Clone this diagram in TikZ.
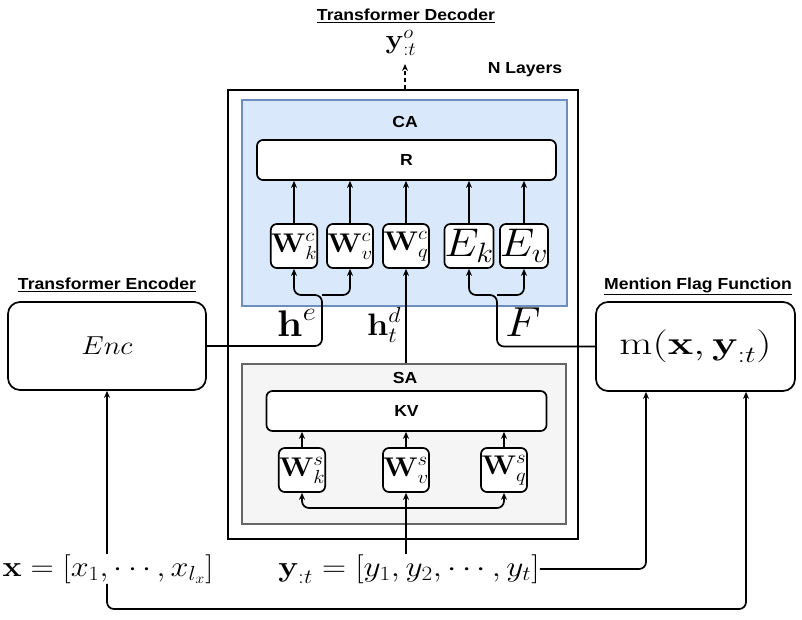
\documentclass[tikz,border=0pt]{standalone}
\usepackage{fix-cm}
\usepackage[no-math]{fontspec}
\usepackage{graphicx}
\newfontfamily\arialf{Liberation Sans}
\usetikzlibrary{arrows.meta,calc}
\definecolor{cafill}{HTML}{DAE8FC}
\definecolor{caborder}{HTML}{6C8EBF}
\definecolor{safill}{HTML}{F5F5F5}
\definecolor{saborder}{HTML}{666666}
\newcommand\mth[2]{\fontsize{#1}{#1}\selectfont\scalebox{1.1}[1]{$#2$}}
\newcommand\mthx[3]{\fontsize{#1}{#1}\selectfont\scalebox{#2}[1]{$#3$}}
\newcommand\bfl[1]{\mbox{\bfseries #1}}
\newcommand\ttl[1]{\arialf\bfseries\fontsize{16}{18}\selectfont\scalebox{1.1}[1]{#1}}
\begin{document}
\begin{tikzpicture}[x=1pt,y=-1pt,
  box/.style={draw, line width=1.7pt, rounded corners=6pt, fill=white, inner sep=0pt},
  wbox/.style={box, minimum width=46pt, minimum height=44pt},
  bigbox/.style={box, rounded corners=12pt, minimum width=198pt, minimum height=88pt},
  lab/.style={inner sep=0pt},
  conn/.style={line width=1.7pt, rounded corners=7pt},
  arr/.style={conn, -{Stealth[length=7pt,width=6pt]}},
  darr/.style={line width=1.7pt, dash pattern=on 4pt off 3pt, -{Stealth[length=7pt,width=6pt]}}]
\useasboundingbox (0,0) rectangle (802,619);

% outer decoder box
\node[draw, line width=2pt, minimum width=350pt, minimum height=449pt, inner sep=0pt] (outer) at (403,314.5) {};
\node[lab] (dectitle) at (406,16) {\ttl{\underline{Transformer Decoder}}};
\node[lab] (nl) at (525,70) {\ttl{N Layers}};
\node[lab] (yo) at (401,43) {\mth{27}{\bfl{y}^o_{:t}}};
\coordinate (ytip) at (405,64);
\draw[darr] (outer.north -| ytip) -- (ytip);

% CA block
\node[draw=caborder, fill=cafill, line width=1.5pt, minimum width=325pt, minimum height=206pt, inner sep=0pt] (ca) at (404.5,203) {};
\node[lab] (calab) at (405,122) {\ttl{CA}};
\node[box, minimum width=299pt, minimum height=40pt] (r) at (406.5,160) {\ttl{R}};
\node[wbox] (wkc) at (294,246) {\mth{27}{\bfl{W}_k^c}};
\node[wbox] (wvc) at (350,246) {\mth{27}{\bfl{W}_v^c}};
\node[wbox] (wqc) at (406,246) {\mth{27}{\bfl{W}_q^c}};
\node[wbox] (ek) at (469,246) {\mth{40}{E_k}};
\node[wbox] (ev) at (524,246) {\mth{40}{E_v}};
\foreach \n in {wkc,wvc,wqc,ek,ev}
  \draw[arr] (\n.north) -- (\n.north |- r.south);

% SA block
\node[draw=saborder, fill=safill, line width=1.7pt, minimum width=324pt, minimum height=160pt, inner sep=0pt] (sa) at (404,444) {};
\node[lab] (salab) at (405,378) {\ttl{SA}};
\node[box, minimum width=280pt, minimum height=40pt] (kv) at (406.5,411) {\ttl{KV}};
\node[wbox] (wks) at (302,470) {\mth{27}{\bfl{W}_k^s}};
\node[wbox] (wvs) at (406,470) {\mth{27}{\bfl{W}_v^s}};
\node[wbox] (wqs) at (504,470) {\mth{27}{\bfl{W}_q^s}};
\foreach \n in {wks,wvs,wqs}
  \draw[arr] (\n.north) -- (\n.north |- kv.south);

% encoder and mention flag
\node[bigbox] (enc) at (107,346) {\mth{26}{Enc}};
\node[lab] (enctitle) at (107,285) {\ttl{\underline{Transformer Encoder}}};
\node[bigbox, minimum width=199pt, minimum height=89pt] (mf) at (695.5,346.5) {\mthx{33}{1.3}{\mathrm{m}(\bfl{x},\bfl{y}_{:t})}};
\node[lab] (mftitle) at (698,286) {\ttl{\underline{Mention Flag Function}}};

% inputs
\node[lab] (xlab) at (108,569) {\mthx{29}{1.11}{\bfl{x}=[x_1,\cdots,x_{l_x}]}};
\node[lab] (ylab) at (409,569) {\mthx{29}{1.15}{\bfl{y}_{:t}=[y_1,y_2,\cdots,y_t]}};

% h^e
\coordinate (hej) at (322,295);
\draw[arr] (enc.east) -| (hej) -| (wkc.south);
\draw[arr] (hej) -| (wvc.south);
\node[lab] (helab) at (297,323) {\mth{37}{\bfl{h}^e}};
% h_t^d
\draw[arr] (sa.north -| wqc) -- (wqc.south);
\node[lab] (hdlab) at (384,325) {\mth{31}{\bfl{h}_t^d}};
% F
\coordinate (fj) at (497,295);
\draw[arr] (mf.west) -| (fj) -| (ek.south);
\draw[arr] (fj) -| (ev.south);
\node[lab] (flab) at (523,322) {\mth{42}{F}};

% self-attention inputs
\coordinate (sj) at (406,508);
\draw[arr] (ylab.north -| wvs) -- (wvs.south);
\draw[arr] (sj) -| (wks.south);
\draw[arr] (sj) -| (wqs.south);

% bottom connectors
\coordinate (xb) at (107,609);
\draw[arr] (xlab.north -| xb) -- (enc.south);
\draw[arr] (xlab.south -| xb) -- (xb) -| ([xshift=50.5pt]mf.south);
\draw[arr] (ylab.east) -| ([xshift=-49.5pt]mf.south);
\end{tikzpicture}
\end{document}
